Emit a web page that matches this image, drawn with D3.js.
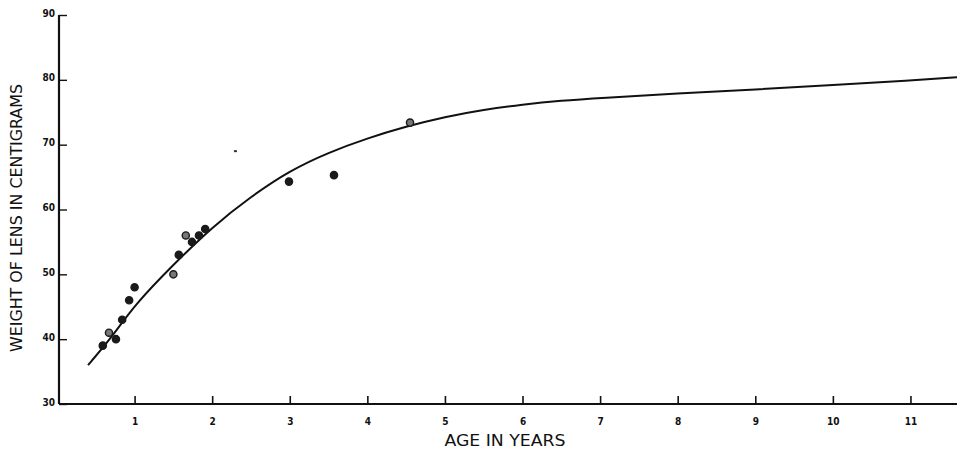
<!DOCTYPE html>
<html lang="en">
<head>
    <meta charset="UTF-8">
    <title>Weight of lens by age</title>
    <script src="https://d3js.org/d3.v7.min.js"></script>
    <style>
        body { margin: 0; background: #fff; }
        text {
            font-family: "DejaVu Sans Condensed", "Liberation Sans Narrow", sans-serif;
            font-stretch: condensed;
            fill: #111;
        }
        .tick-label { font-size: 10px; font-weight: bold; }
        .title { font-size: 16px; }
    </style>
</head>
<body>
    <svg width="957" height="457"></svg>

    <script>
        // observed lens weights (age in years, centigrams)
        const ages =    [0.59, 0.67, 0.76, 0.84, 0.93, 1.0, 1.5, 1.57, 1.66, 1.74, 1.83, 1.91, 2.99, 3.57, 4.55];
        const weights = [39,   41,   40,   43,   46,   48,  50,  53,   56,   55,   56,   57,   64.3, 65.3, 73.4];
        const openDots = [false, true, false, false, false, false, true, false, true, false, false, false, false, false, true];

        // fitted growth curve
        const curveAges =    [0.4, 0.7, 1, 1.5, 2, 2.5, 3, 3.5, 4, 4.5, 5, 5.5, 6, 6.5, 7, 8, 9, 10, 11, 11.6];
        const curveWeights = [36, 40.2, 45.3, 51.5, 57.3, 62, 66, 68.8, 71, 72.8, 74.3, 75.4, 76.2, 76.8, 77.2, 77.9, 78.5, 79.2, 79.9, 80.4];

        const xTicks = [1, 2, 3, 4, 5, 6, 7, 8, 9, 10, 11];
        const yTicks = [30, 40, 50, 60, 70, 80, 90];

        const svg = d3.select("svg");

        const x = d3.scaleLinear().domain([0, 11.6]).range([57, 957]);
        const y = d3.scaleLinear().domain([30, 90]).range([404, 15]);

        // axes: heavy line plus short inward ticks
        const xAxis = d3.axisBottom(x).tickValues(xTicks).tickSize(-8).tickPadding(14).tickFormat(d3.format("d"));
        const gx = svg.append("g").attr("transform", `translate(0,${y(30)})`).call(xAxis);
        gx.select(".domain").attr("d", `M${x(0) + 2},0H957`).attr("stroke", "#111").attr("stroke-width", 2.2);
        gx.selectAll(".tick line").attr("stroke", "#111").attr("stroke-width", 1.6);
        gx.selectAll(".tick text").attr("class", "tick-label").attr("font-family", null).attr("font-size", null);

        const yAxis = d3.axisLeft(y).tickValues(yTicks).tickSize(-8).tickPadding(4).tickFormat(d3.format("d"));
        const gy = svg.append("g").attr("transform", `translate(${x(0) + 2},0)`).call(yAxis);
        gy.select(".domain").attr("d", `M0,${y(90)}V${y(30)}`).attr("stroke", "#111").attr("stroke-width", 2.2);
        gy.selectAll(".tick line").attr("stroke", "#111").attr("stroke-width", 1.4);
        gy.selectAll(".tick text").attr("class", "tick-label").attr("font-family", null).attr("font-size", null)
            .attr("dy", "0.1em");

        // curve
        const line = d3.line()
            .x(d => x(d[0]))
            .y(d => y(d[1]))
            .curve(d3.curveBasis);

        svg.append("path")
            .datum(curveAges.map((a, i) => [a, curveWeights[i]]))
            .attr("d", line)
            .attr("fill", "none")
            .attr("stroke", "#111")
            .attr("stroke-width", 2);

        // points
        svg.append("g").selectAll("circle")
            .data(ages.map((a, i) => ({ age: a, w: weights[i], open: openDots[i] })))
            .join("circle")
            .attr("cx", d => x(d.age))
            .attr("cy", d => y(d.w))
            .attr("r", 3.6)
            .attr("fill", d => d.open ? "#777" : "#1a1a1a")
            .attr("stroke", "#1a1a1a")
            .attr("stroke-width", 1.4);

        // stray speck in the original drawing
        svg.append("rect")
            .attr("x", x(2.3) - 1.5).attr("y", y(69) - 1)
            .attr("width", 3).attr("height", 2)
            .attr("fill", "#333");

        // titles
        svg.append("text")
            .attr("class", "title")
            .attr("x", 505).attr("y", 446)
            .attr("text-anchor", "middle")
            .attr("textLength", 121)
            .attr("lengthAdjust", "spacingAndGlyphs")
            .text("AGE IN YEARS");

        svg.append("text")
            .attr("class", "title")
            .attr("transform", "translate(22,218) rotate(-90)")
            .attr("text-anchor", "middle")
            .attr("textLength", 268)
            .attr("lengthAdjust", "spacingAndGlyphs")
            .text("WEIGHT OF LENS IN CENTIGRAMS");
    </script>
</body>
</html>
